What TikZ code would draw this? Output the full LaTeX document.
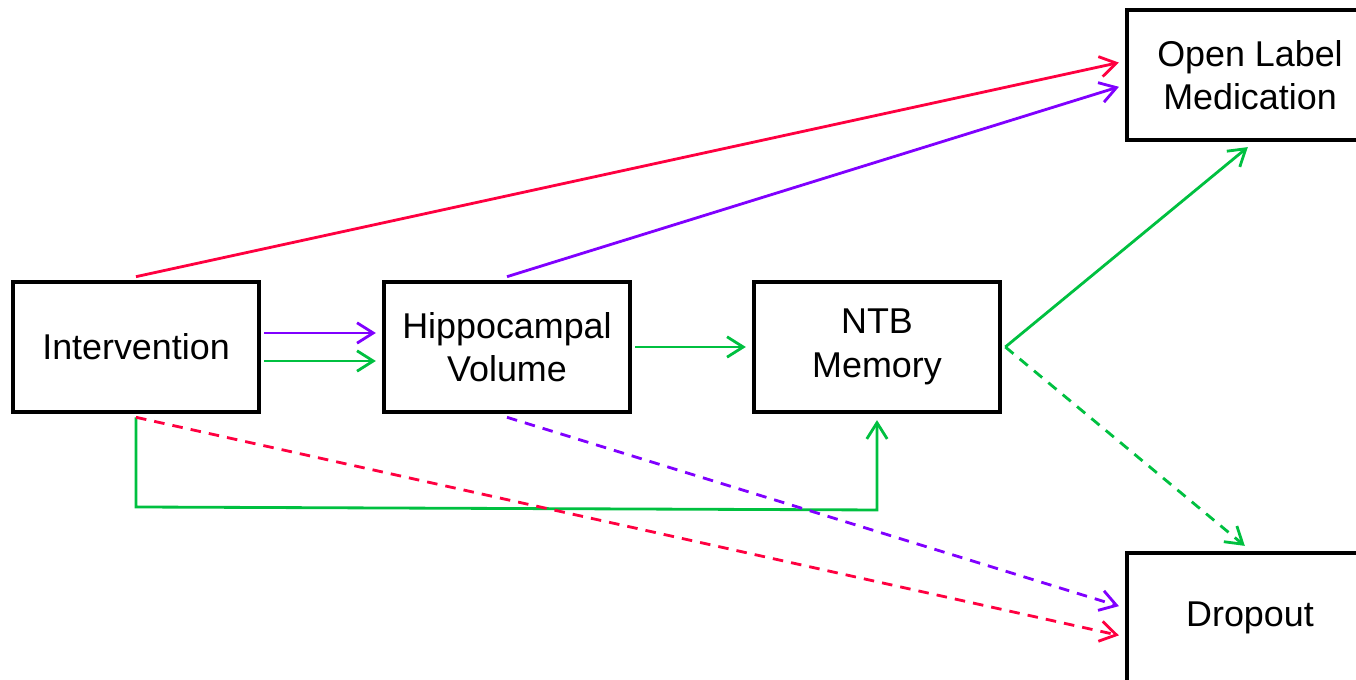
\documentclass[tikz,border=0pt]{standalone}
\usepackage{fontspec}
\setmainfont{Liberation Sans}
\usetikzlibrary{arrows.meta}
\definecolor{cred}{RGB}{255,0,64}
\definecolor{cpurple}{RGB}{128,0,255}
\definecolor{cgreen}{RGB}{0,192,64}
\tikzset{
  box/.style={draw=black, line width=0.9pt, minimum width=2.46cm, minimum height=1.30cm,
    align=center, inner sep=2pt, outer sep=1.5pt, font=\fontsize{10.2pt}{12.3pt}\selectfont},
  conn/.style={line width=0.8pt, -{Straight Barb[length=4.6pt,width=5.8pt,line width=0.8pt]}, shorten >=0.8pt},
  dash2/.style={dash pattern=on 3pt off 2.3pt},
}
\begin{document}
\begin{tikzpicture}[x=0.01cm,y=-0.01cm]
\useasboundingbox (0,0) rectangle (1356,680);
\clip (0,0) rectangle (1356,680);
\node[box] (int) at (136,347) {Intervention};
\node[box] (hip) at (507,347) {Hippocampal\\Volume};
\node[box] (ntb) at (877,347) {NTB\\Memory};
\node[box] (olm) at (1250,75) {Open Label\\Medication};
\node[box] (drop) at (1250,618) {Dropout};
\coordinate (elb) at (136,507);
\coordinate (elb2) at (877,510);
% solid
\draw[conn, cred] (int.north) -- ([yshift=0.13cm]olm.west);
\draw[conn, cpurple] (hip.north) -- ([yshift=-0.11cm]olm.west);
\draw[conn, cpurple] ([yshift=0.14cm]int.east) -- ([yshift=0.14cm]hip.west);
\draw[conn, cgreen] ([yshift=-0.14cm]int.east) -- ([yshift=-0.14cm]hip.west);
\draw[conn, cgreen] (hip.east) -- (ntb.west);
\draw[conn, cgreen] (ntb.east) -- (olm.south);
\draw[conn, cgreen] (int.south) -- (elb) -- (elb2) -- (ntb.south);
% dashed
\draw[conn, dash2, cgreen] (ntb.east) -- ([xshift=-0.03cm]drop.north);
\draw[conn, dash2, cpurple] (hip.south) -- ([yshift=0.11cm]drop.west);
\draw[conn, dash2, cred] (int.south) -- ([yshift=-0.18cm]drop.west);
\end{tikzpicture}
\end{document}
